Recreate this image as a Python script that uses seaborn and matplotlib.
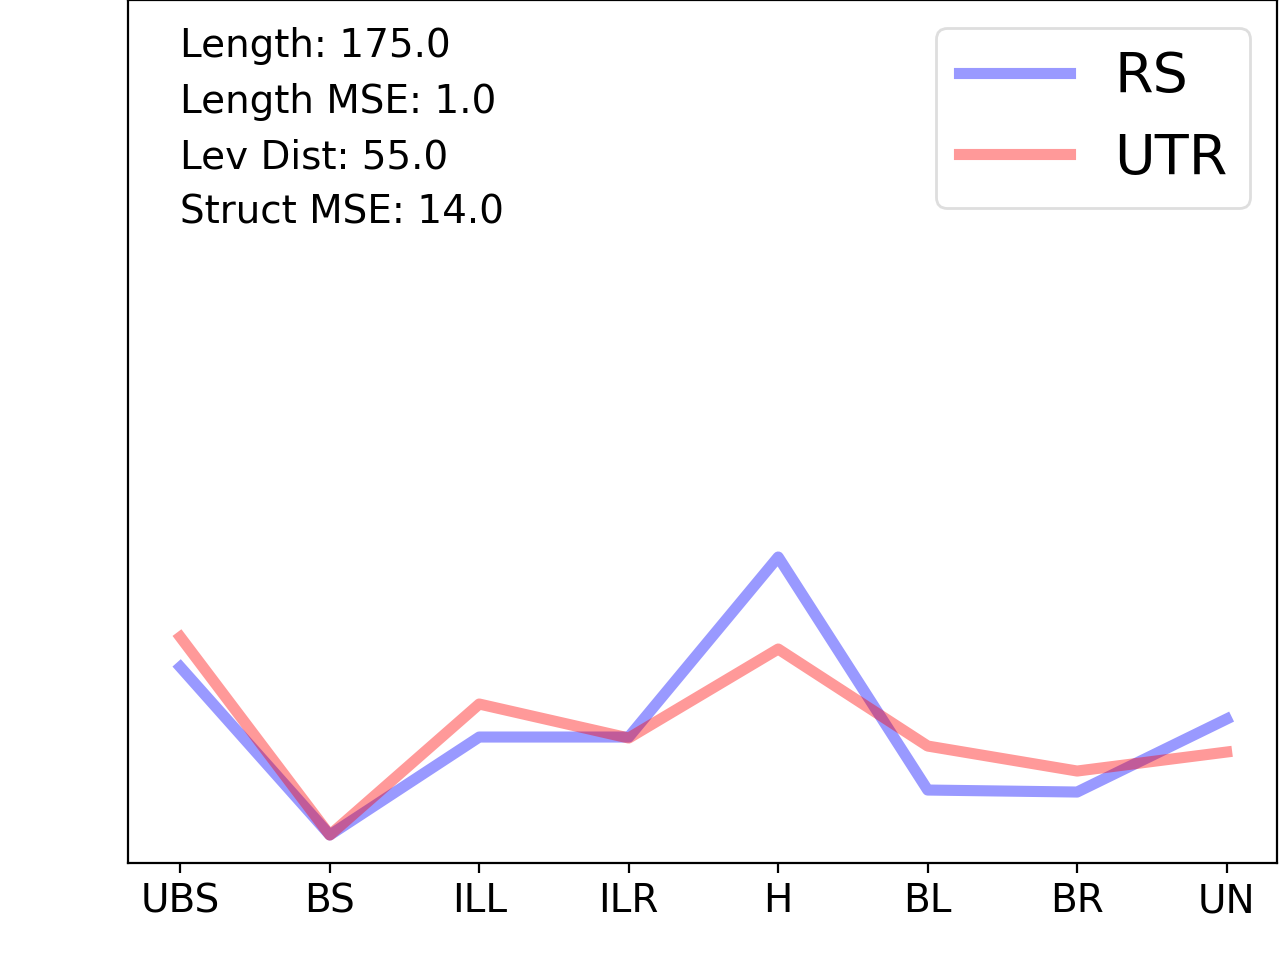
import pandas as pd
import matplotlib
matplotlib.use("Agg")
import matplotlib.pyplot as plt
import seaborn as sns

# Données (axe y sans graduation)
categories = ["UBS", "BS", "ILL", "ILR", "H", "BL", "BR", "UN"]
rs_values = [196, 28, 126, 126, 306, 73, 71, 144]
utr_values = [226, 28, 159, 125, 214, 117, 92, 111]
infos = ["Length: 175.0", "Length MSE: 1.0", "Lev Dist: 55.0", "Struct MSE: 14.0"]

sns.set_theme(style="white", rc={"text.color": "black", "xtick.color": "black",
                                 "axes.labelcolor": "black"})
plt.rcParams['font.family'] = ['DejaVu Sans']

df = pd.DataFrame({
    "pos": list(range(len(categories))) * 2,
    "val": rs_values + utr_values,
    "serie": ["RS"] * len(categories) + ["UTR"] * len(categories),
})

fig, ax = plt.subplots(figsize=(6.4, 4.8), dpi=200)
fig.subplots_adjust(left=0.1, right=0.998, bottom=0.101, top=1.0)

sns.lineplot(data=df, x="pos", y="val", hue="serie",
             palette={"RS": "blue", "UTR": "red"}, alpha=0.4, linewidth=4,
             solid_capstyle="projecting", ax=ax)

ax.set_xlim(-0.35, 7.34)
ax.set_ylim(0, 863)
ax.set_xticks(range(len(categories)))
ax.set_xticklabels(categories, fontsize=14)
ax.set_yticks([])
ax.set_xlabel("")
ax.set_ylabel("")
ax.tick_params(axis="x", bottom=True, length=3.5, width=0.8, color="black", pad=3.5)
for s in ax.spines.values():
    s.set_color("black")
    s.set_linewidth(0.8)

for i, t in enumerate(infos):
    ax.text(0, 863 - 27 - i * 55.5, t, fontsize=14, va="top", ha="left", color="black")

leg = ax.legend(fontsize=20, loc="upper right", frameon=True)
leg.get_frame().set_edgecolor("#d6d6d6")
for line in leg.get_lines():
    line.set_solid_capstyle("projecting")

plt.savefig("out.png", dpi=200)
